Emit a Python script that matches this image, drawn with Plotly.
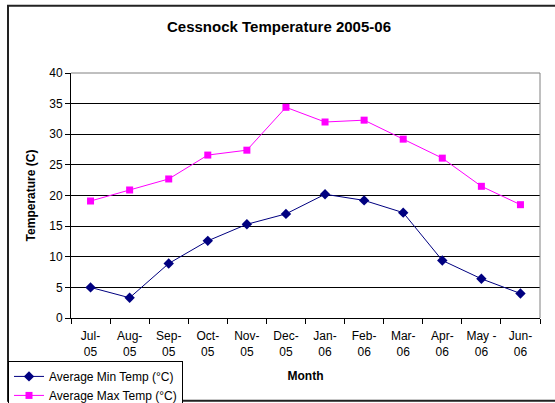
import plotly.graph_objects as go

months = ["Jul-<br>05", "Aug-<br>05", "Sep-<br>05", "Oct-<br>05", "Nov-<br>05", "Dec-<br>05",
          "Jan-<br>06", "Feb-<br>06", "Mar-<br>06", "Apr-<br>06", "May -<br>06", "Jun-<br>06"]
min_temp = [5.0, 3.3, 8.9, 12.6, 15.3, 17.0, 20.2, 19.2, 17.2, 9.4, 6.4, 4.0]
max_temp = [19.1, 20.9, 22.7, 26.6, 27.4, 34.4, 32.0, 32.3, 29.2, 26.1, 21.5, 18.5]
y_ticks = [0, 5, 10, 15, 20, 25, 30, 35, 40]

FONT = "Liberation Sans, Arial, sans-serif"

fig = go.Figure()
fig.add_trace(go.Scatter(
    x=months, y=min_temp, mode="lines+markers", name="Average Min Temp (°C)",
    line=dict(color="#000080", width=1),
    marker=dict(symbol="diamond", size=8, color="#000080"),
))
fig.add_trace(go.Scatter(
    x=months, y=max_temp, mode="lines+markers", name="Average Max Temp (°C)",
    line=dict(color="#FF00FF", width=1),
    marker=dict(symbol="square", size=7, color="#FF00FF"),
))

L, R, T, B = 71, 15, 72.5, 85
W, H = 555, 403
pw = W - L - R
ph = H - T - B

def px(x):
    return (x - L) / pw

def py(y):
    return (H - B - y) / ph

fig.update_layout(
    width=W, height=H,
    margin=dict(l=L, r=R, t=T, b=B, autoexpand=False),
    paper_bgcolor="white", plot_bgcolor="white",
    font=dict(family=FONT, size=12, color="black"),
    title=dict(text="<b>Cessnock Temperature 2005-06</b>", x=px(279), xref="paper",
               xanchor="center", y=1 - 27 / H, yanchor="middle",
               font=dict(size=15, family=FONT, color="black")),
    showlegend=True,
    legend=dict(x=px(8), xanchor="left", y=py(361), yanchor="top",
                bordercolor="black", borderwidth=1, bgcolor="white",
                font=dict(size=12, family=FONT), tracegroupgap=0,
                itemwidth=30),
    xaxis=dict(
        type="category", tickson="boundaries", ticks="outside", ticklen=5,
        tickcolor="black", showline=True, linecolor="black", linewidth=1,
        showgrid=False, mirror=False, tickangle=0, automargin=False,
        ticklabelstandoff=7,
        tickfont=dict(size=12, family=FONT),
        title=dict(text="<b>Month</b>", font=dict(size=12, family=FONT), standoff=13),
        range=[-0.5, 11.5],
    ),
    yaxis=dict(
        range=[0, 40], tickvals=y_ticks, ticks="outside", ticklen=5, tickcolor="black",
        showline=True, linecolor="black", linewidth=1, automargin=False,
        showgrid=True, gridcolor="black", gridwidth=1, zeroline=False,
        tickfont=dict(size=12, family=FONT),
        title=dict(text="<b>Temperature (C)</b>", font=dict(size=12, family=FONT), standoff=11),
    ),
    shapes=[
        dict(type="line", xref="paper", yref="paper", x0=0, x1=1, y0=1, y1=1,
             line=dict(color="#808080", width=1)),
        dict(type="line", xref="paper", yref="paper", x0=1, x1=1, y0=0, y1=1,
             line=dict(color="#808080", width=1)),
        dict(type="rect", xref="paper", yref="paper", x0=px(8), x1=px(557),
             y0=py(401), y1=py(5), line=dict(color="#222222", width=2), layer="below"),
    ],
)

fig.write_html("out.html", config={"displayModeBar": False},
               post_script="document.body.style.margin='0';document.body.style.overflow='hidden';")
